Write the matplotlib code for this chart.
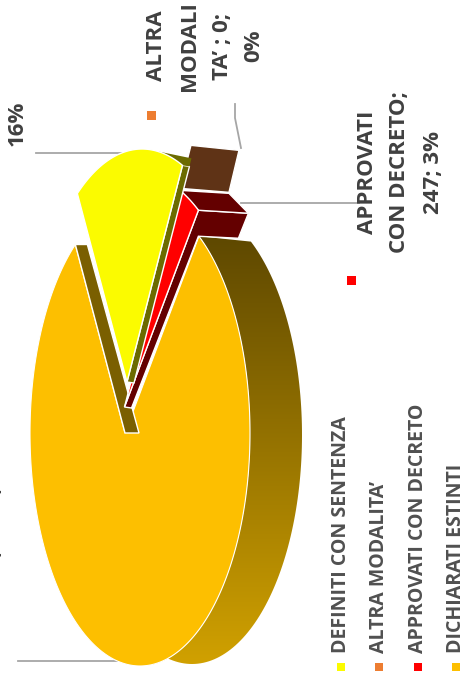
import numpy as np
import matplotlib
matplotlib.use('Agg')
import matplotlib.pyplot as plt
from matplotlib.patches import Polygon, Rectangle
from matplotlib.colors import LinearSegmentedColormap

categories = ['DEFINITI CON SENTENZA', 'ALTRA MODALITA’', 'APPROVATI CON DECRETO', 'DICHIARATI ESTINTI']
values = [1317, 0, 247, 6669]
colors = ['#FBFB00', '#ED7D31', '#FF0000', '#FDBF00']

plt.rcParams['font.family'] = ['Open Sans', 'DejaVu Sans']
TXT = '#404040'
W, H = 464, 682

fig = plt.figure(figsize=(W / 100, H / 100), dpi=100)
ax = fig.add_axes([0, 0, 1, 1])


def ell(center, p, rx=110, ry=233):
    # point on the pie ellipse, p in degrees (y axis goes down)
    p = np.radians(p)
    return np.column_stack([center[0] + rx * np.cos(p), center[1] - ry * np.sin(p)])


# slice angles come from the values, clockwise from the left tip of the yellow slice
start = 126.0
sweeps = 360.0 * np.array(values) / sum(values)
ends = start - np.cumsum(sweeps)
begins = ends + sweeps

base = np.array([140.0, 433.0])
c_yellow = base + [2, -51]
c_red = base + [-0.5, -26]
c_orange = base
apex_shift = np.array([-15.0, 0.0])

white = dict(edgecolor='white', linewidth=1.0, joinstyle='miter')

# outer wall of the big slice, with its gradient
arc_front = ell(c_orange, np.linspace(begins[2] - sweeps[2], ends[3], 200))
arc_back = ell(base + [52, 2], np.linspace(ends[3] + 4, begins[3], 200), ry=229)
wall = Polygon(np.vstack([arc_front, arc_back]), closed=True, facecolor='none', edgecolor='none')
ax.add_patch(wall)
cmap = LinearSegmentedColormap.from_list('wall', ['#5E4800', '#D2A200'])
grad = np.linspace(0, 1, 256).reshape(-1, 1)
im = ax.imshow(grad, cmap=cmap, extent=(150, 310, 670, 235), aspect='auto', zorder=1)
im.set_clip_path(wall)

# big slice and the inner wall seen in the gap
arc = ell(c_orange, np.linspace(begins[3], ends[3], 300))
apex = c_orange + apex_shift
ax.add_patch(Polygon(np.vstack([apex, arc]), closed=True, facecolor=colors[3], zorder=2,
                     edgecolor='white', linewidth=0.8))
tip = arc[-1]
ax.add_patch(Polygon([apex, tip, tip + [12, 0], apex + [14, 0]], closed=True,
                     facecolor='#7A5F00', zorder=3, **white))

# red slice walls
apex_r = c_red + apex_shift
r_arc = ell(c_red, np.linspace(begins[2], ends[2], 40))
r_a, r_b = r_arc[0], r_arc[-1]
ax.add_patch(Polygon([r_b, r_b + [50, 3], r_b + [40, 28], r_b + [0, 26], apex_r + [7, 1], apex_r], closed=True,
                     facecolor='#640000', zorder=4, **white))
ax.add_patch(Polygon([r_a, r_b, r_b + [50, 3], r_a + [49, 3]], closed=True,
                     facecolor='#640000', zorder=4, **white))

# zero slice, only its wall shows
ax.add_patch(Polygon([r_a + [0, -2], r_a + [11, -45], r_a + [59, -40], r_a + [49, 2]], closed=True,
                     facecolor='#5F3316', zorder=4, **white))

ax.add_patch(Polygon(np.vstack([apex_r, r_arc]), closed=True, facecolor=colors[2], zorder=5, **white))

# yellow slice with thin walls
apex_y = c_yellow + apex_shift
y_arc = ell(c_yellow, np.linspace(begins[0], ends[0], 100))
y_tip = y_arc[-1]
ax.add_patch(Polygon([apex_y, y_tip, y_tip + [7, 1], apex_y + [7, 1]], closed=True,
                     facecolor='#6B6B00', zorder=6, **white))
ax.add_patch(Polygon([ell(c_yellow, 82.0)[0], y_tip + [9, -7], y_tip + [7, 1], y_tip], closed=True,
                     facecolor='#6B6B00', zorder=6, edgecolor='none'))
ax.add_patch(Polygon(np.vstack([apex_y, y_arc]), closed=True, facecolor=colors[0], zorder=7, **white))

# leader lines
grey = dict(color='#A6A6A6', linewidth=1.3, zorder=1)
ax.plot([36, 123], [153, 153], **grey)
ax.plot([18, 118], [661, 661], **grey)
ax.plot([241, 359], [203, 203], **grey)
ax.plot([235, 235, 241], [104, 118, 148], **grey)

# data labels
lab = dict(rotation=90, ha='center', va='center', color=TXT, fontsize=16, fontweight='bold')
ax.text(17, 123, '16%', **lab)
for x, s in zip([157, 190, 223, 254], ['ALTRA', 'MODALI', 'TA’ ; 0;', '0%']):
    ax.text(x, 46, s, **lab)
for x, s in zip([368, 400, 434], ['APPROVATI', 'CON DECRETO;', '247; 3%']):
    ax.text(x, 172, s, **lab)
ax.text(-1, 640, 'ESTINTI; 6669; 81%', rotation=90, rotation_mode='anchor', ha='left', va='baseline',
        color=TXT, fontsize=16, fontweight='bold')

# label markers
ax.add_patch(Rectangle((147, 111), 9, 9, facecolor=colors[1], edgecolor='none'))
ax.add_patch(Rectangle((347, 276), 9, 9, facecolor=colors[2], edgecolor='none'))

# legend
for x, name, col in zip([341, 379, 418, 456], categories, colors):
    ax.text(x, 653, name, rotation=90, ha='center', va='bottom', color='#505050', fontsize=14, fontweight='bold')
    ax.add_patch(Rectangle((x - 4, 663), 8, 8, facecolor=col, edgecolor='none'))

ax.set_xlim(0, W)
ax.set_ylim(H, 0)
ax.axis('off')
fig.savefig('out.png', dpi=100)
